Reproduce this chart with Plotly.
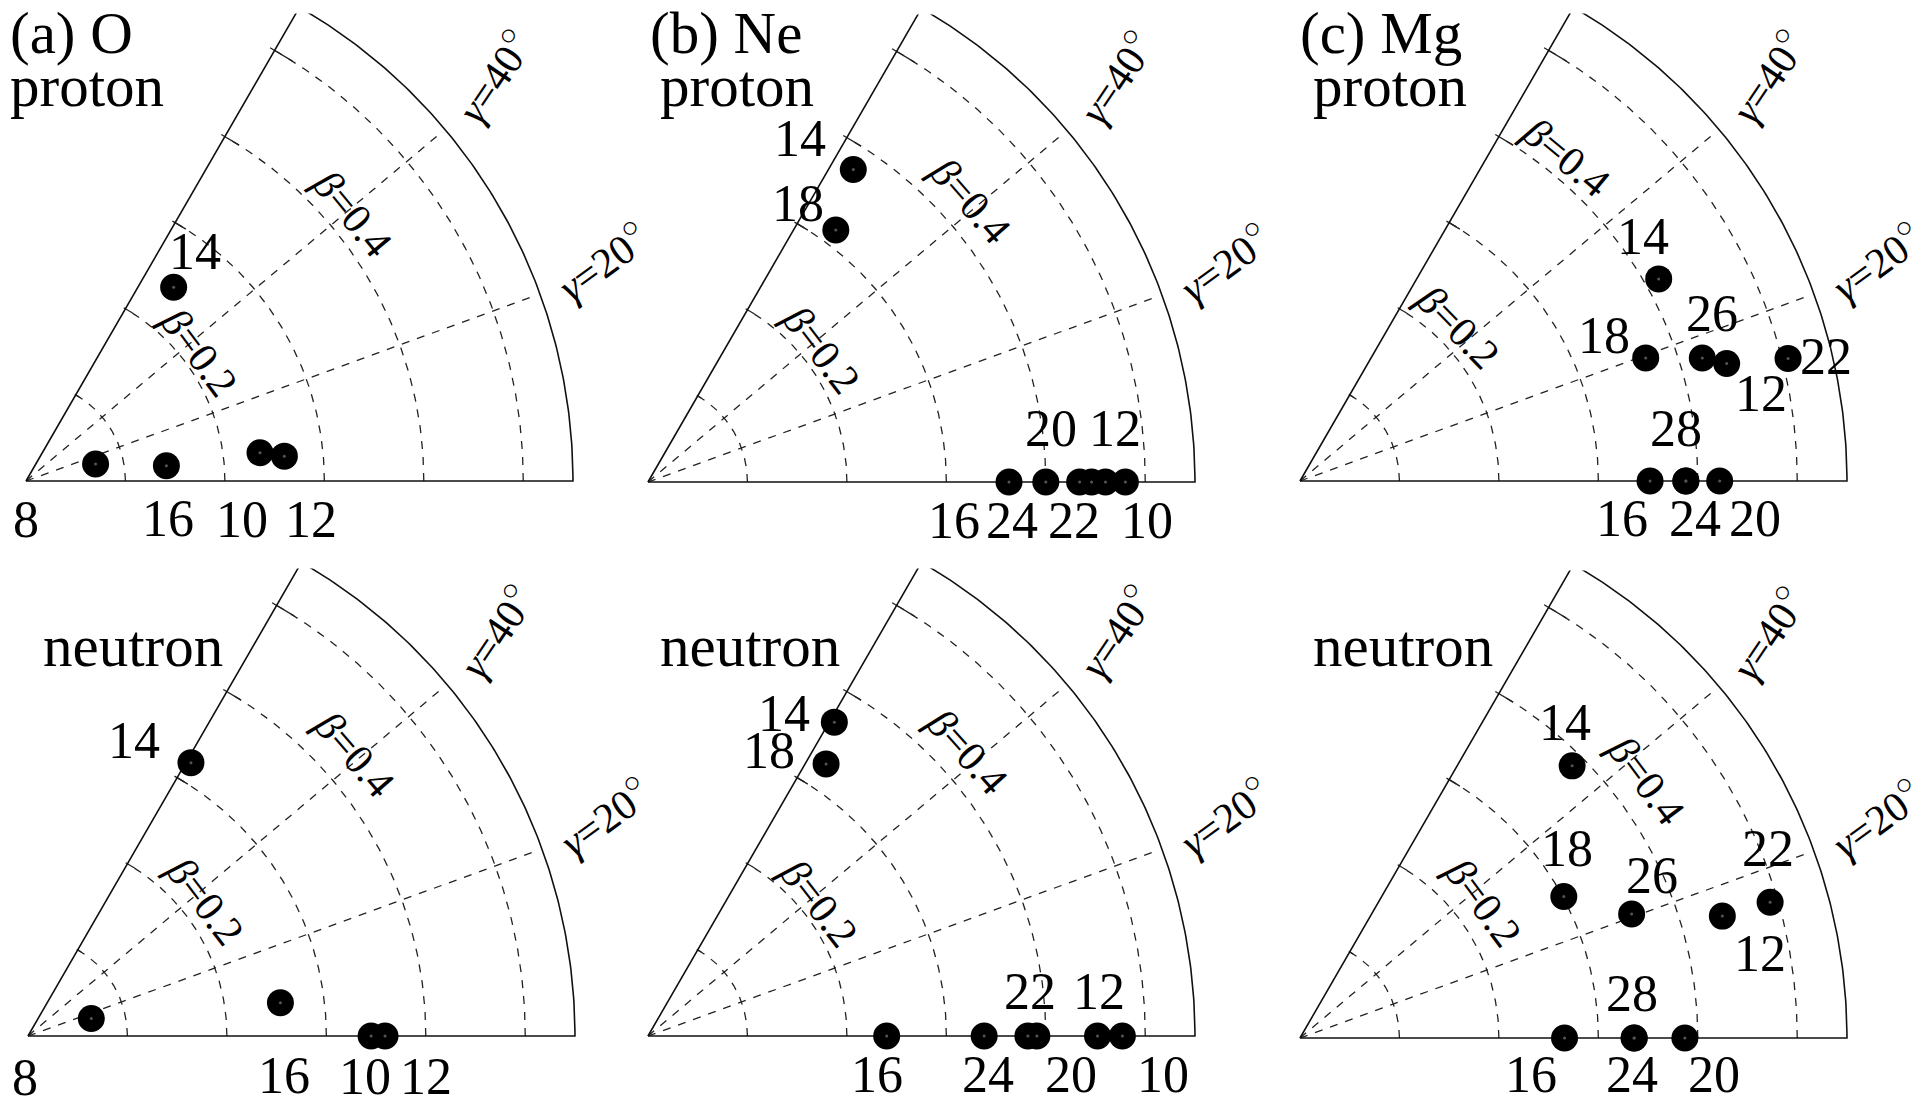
import numpy as np
import plotly.graph_objects as go

W, H = 1924, 1097
S = 994.5            # pixels per unit of beta
BMAX = 0.55
ARC_BETAS = [0.1, 0.2, 0.3, 0.4, 0.5]
RAY_GAMMAS = [20, 40]
XMIN, XMAX, YMIN, YMAX = -0.015, 0.58, -0.02, 0.47
FONT = "Liberation Serif"

# (a) O, proton
o_p_n = ["8", "10", "12", "14", "16"]
o_p_beta = [0.072, 0.237, 0.261, 0.245, 0.142]
o_p_gamma = [13.7, 6.9, 5.5, 52.7, 6.2]
# (a) O, neutron
o_n_n = ["8", "10", "12", "14", "16"]
o_n_beta = [0.066, 0.345, 0.359, 0.320, 0.256]
o_n_gamma = [15.4, 0.0, 0.0, 59.2, 7.5]
# (b) Ne, proton
ne_p_n = ["10", "12", "14", "16", "18", "20", "22", "24"]
ne_p_beta = [0.480, 0.460, 0.376, 0.363, 0.316, 0.434, 0.446, 0.400]
ne_p_gamma = [0.0, 0.0, 56.7, 0.0, 53.3, 0.0, 0.0, 0.0]
# (b) Ne, neutron
ne_n_n = ["10", "12", "14", "16", "18", "20", "22", "24"]
ne_n_beta = [0.477, 0.452, 0.367, 0.240, 0.327, 0.391, 0.382, 0.338]
ne_n_gamma = [0.0, 0.0, 59.3, 0.0, 56.8, 0.0, 0.0, 0.0]
# (c) Mg, proton
mg_p_n = ["12", "14", "16", "18", "20", "22", "24", "26", "28"]
mg_p_beta = [0.445, 0.414, 0.352, 0.369, 0.422, 0.506, 0.388, 0.423, 0.388]
mg_p_gamma = [15.4, 29.4, 0.0, 19.6, 0.0, 14.1, 0.0, 17.0, 0.0]
# (c) Mg, neutron
mg_n_n = ["12", "14", "16", "18", "20", "22", "24", "26", "28"]
mg_n_beta = [0.442, 0.387, 0.266, 0.301, 0.387, 0.492, 0.336, 0.356, 0.336]
mg_n_gamma = [16.1, 45.0, 0.0, 28.2, 0.0, 16.1, 0.0, 20.5, 0.0]

# label placement (pixel shift from the point, +dy = downwards)
o_p_off = {"8": (-70, 55), "10": (-18, 67), "12": (27, 63), "14": (21, -36), "16": (2, 53)}
o_n_off = {"8": (-66, 59), "10": (-6, 40), "12": (41, 40), "14": (-57, -22), "16": (4, 73)}
ne_p_off = {"16": (-55, 38), "24": (-34, 38), "22": (-18, 38), "10": (22, 38),
            "20": (-29, -54), "12": (10, -54), "14": (-53, -31), "18": (-38, -27)}
ne_n_off = {"16": (-10, 38), "24": (4, 38), "20": (34, 38), "10": (41, 38),
            "22": (2, -45), "12": (1, -45), "14": (-50, -9), "18": (-57, -13)}
mg_p_off = {"14": (-16, -42), "18": (-42, -22), "26": (10, -45), "12": (34, 30),
            "22": (38, -2), "28": (-10, -52), "16": (-28, 38), "24": (9, 38), "20": (35, 38)}
mg_n_off = {"14": (-7, -43), "18": (3, -48), "26": (20, -39), "22": (-2, -54),
            "12": (38, 37), "28": (-2, -45), "16": (-34, 36), "24": (-2, 36), "20": (29, 36)}

panels = [
    dict(n=o_p_n, beta=o_p_beta, gamma=o_p_gamma, off=o_p_off, origin=(18, 473),
         b4=(0.424, 39.4), b2=(0.217, 36.7)),
    dict(n=ne_p_n, beta=ne_p_beta, gamma=ne_p_gamma, off=ne_p_off, origin=(640, 474),
         b4=(0.430, 41.2), b2=(0.219, 37.5)),
    dict(n=mg_p_n, beta=mg_p_beta, gamma=mg_p_gamma, off=mg_p_off, origin=(1292, 473),
         b4=(0.4215, 50.6), b2=(0.222, 44.3)),
    dict(n=o_n_n, beta=o_n_beta, gamma=o_n_gamma, off=o_n_off, origin=(20, 1028),
         b4=(0.4335, 40.8), b2=(0.224, 37.3)),
    dict(n=ne_n_n, beta=ne_n_beta, gamma=ne_n_gamma, off=ne_n_off, origin=(640, 1028),
         b4=(0.430, 41.8), b2=(0.218, 37.9)),
    dict(n=mg_n_n, beta=mg_n_beta, gamma=mg_n_gamma, off=mg_n_off, origin=(1292, 1030),
         b4=(0.434, 36.7), b2=(0.229, 36.6)),
]

titles = [("(a) O", 0, 25), ("proton", 0, 78),
          ("(b) Ne", 640, 25), ("proton", 650, 78),
          ("(c) Mg", 1290, 25), ("proton", 1303, 78),
          ("neutron", 33, 638), ("neutron", 650, 638), ("neutron", 1303, 638)]


def polar_xy(beta, gamma):
    g = np.radians(np.asarray(gamma, dtype=float))
    b = np.asarray(beta, dtype=float)
    return b * np.cos(g), b * np.sin(g)


def path(segments):
    xs, ys = [], []
    for sx, sy in segments:
        xs += list(sx) + [None]
        ys += list(sy) + [None]
    return xs, ys


fig = go.Figure()
annotations = []
layout = {}
g_full = np.linspace(0, 60, 121)

for i, p in enumerate(panels, start=1):
    sfx = "" if i == 1 else str(i)
    xa, ya = "x" + sfx, "y" + sfx
    ox, oy = p["origin"]
    layout["xaxis" + sfx] = dict(
        domain=[(ox + XMIN * S) / W, (ox + XMAX * S) / W], range=[XMIN, XMAX],
        visible=False, fixedrange=True, anchor=ya)
    layout["yaxis" + sfx] = dict(
        domain=[1 - (oy - YMIN * S) / H, 1 - (oy - YMAX * S) / H], range=[YMIN, YMAX],
        visible=False, fixedrange=True, anchor=xa)

    # dashed grid: arcs of constant beta and rays of constant gamma
    arcs = [polar_xy(np.full_like(g_full, b), g_full) for b in ARC_BETAS]
    rays = [polar_xy([0, 0.54], [g, g]) for g in RAY_GAMMAS]
    gx, gy = path(arcs + rays)
    fig.add_trace(go.Scatter(x=gx, y=gy, xaxis=xa, yaxis=ya, mode="lines",
                             line=dict(color="#222", width=1.3, dash="8px,8px"),
                             hoverinfo="skip", showlegend=False))

    # small ticks on the 60 degree edge
    ticks = [polar_xy([b, b], [57.6, 60.6]) for b in ARC_BETAS]
    tx, ty = path(ticks)
    fig.add_trace(go.Scatter(x=tx, y=ty, xaxis=xa, yaxis=ya, mode="lines",
                             line=dict(color="#222", width=1.3),
                             hoverinfo="skip", showlegend=False))

    # sector outline
    ax_, ay_ = polar_xy(np.full_like(g_full, BMAX), g_full)
    outline_x = [0] + list(ax_) + [0]
    outline_y = [0] + list(ay_) + [0]
    fig.add_trace(go.Scatter(x=outline_x, y=outline_y, xaxis=xa, yaxis=ya, mode="lines",
                             line=dict(color="#111", width=1.6),
                             hoverinfo="skip", showlegend=False))

    # data points
    px_, py_ = polar_xy(p["beta"], p["gamma"])
    fig.add_trace(go.Scatter(x=px_, y=py_, xaxis=xa, yaxis=ya, mode="markers",
                             marker=dict(color="black", size=27, line=dict(width=0)),
                             cliponaxis=False, text=p["n"], showlegend=False))
    fig.add_trace(go.Scatter(x=px_, y=py_, xaxis=xa, yaxis=ya, mode="markers",
                             marker=dict(color="#555", size=3, line=dict(width=0)),
                             cliponaxis=False, hoverinfo="skip", showlegend=False))

    for n, x, y in zip(p["n"], px_, py_):
        dx, dy = p["off"][n]
        annotations.append(dict(x=x, y=y, xref=xa, yref=ya, text=n, showarrow=False,
                                xshift=dx, yshift=-dy, xanchor="center", yanchor="middle",
                                font=dict(family=FONT, size=52, color="#000")))

    # beta / gamma labels
    for txt, (b, g) in (("<i>β</i>=0.4", p["b4"]), ("<i>β</i>=0.2", p["b2"])):
        x, y = polar_xy(b, g)
        annotations.append(dict(x=float(x), y=float(y), xref=xa, yref=ya, text=txt,
                                showarrow=False, textangle=90 - g,
                                font=dict(family=FONT, size=42, color="#000")))
    for txt, (b, g), ang in (("<i>γ</i>=40<sup>○</sup>", (0.622, 41.0), -56),
                             ("<i>γ</i>=20<sup>○</sup>", (0.620, 21.0), -36)):
        x, y = polar_xy(b, g)
        annotations.append(dict(x=float(x), y=float(y), xref=xa, yref=ya, text=txt,
                                showarrow=False, textangle=ang,
                                font=dict(family=FONT, size=42, color="#000")))

for txt, x, y in titles:
    annotations.append(dict(x=x / W, y=1 - y / H, xref="paper", yref="paper", text=txt,
                            showarrow=False, xanchor="left", yanchor="middle",
                            font=dict(family=FONT, size=59, color="#000")))

fig.update_layout(width=W, height=H, margin=dict(l=0, r=0, t=0, b=0),
                  paper_bgcolor="white", plot_bgcolor="white",
                  annotations=annotations, **layout)
fig.write_html("out.html")
